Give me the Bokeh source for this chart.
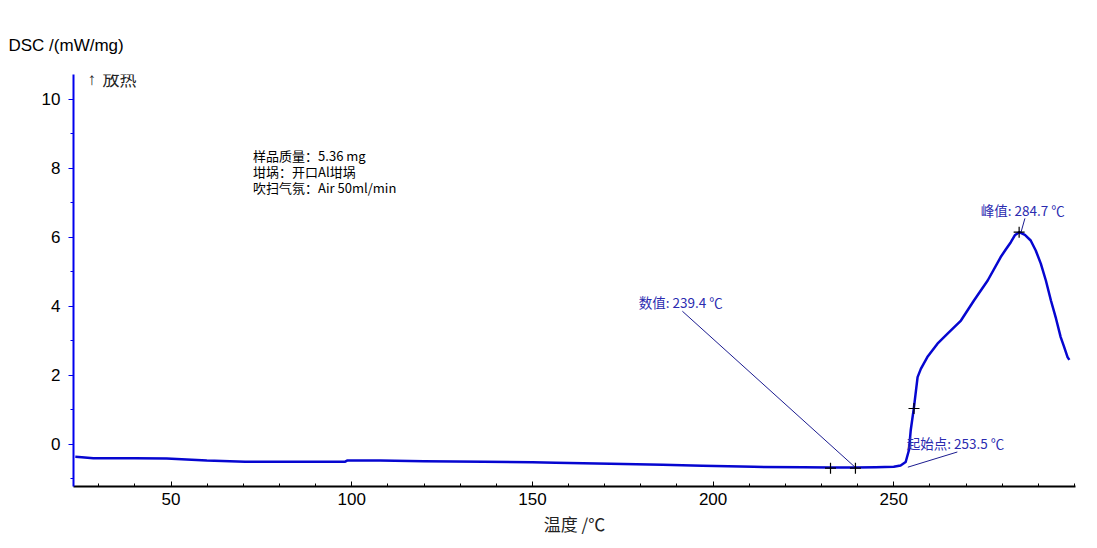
from bokeh.plotting import figure
from bokeh.models import Range1d, FixedTicker, Label, ColumnDataSource
from bokeh.core.properties import value
from bokeh.embed import file_html
from bokeh.resources import INLINE

# ---- data ----
temp = [23.5, 25.3, 28.5, 40.0, 48.8, 54.3, 59.9, 70.5, 85.0, 98.2, 98.7, 107.9, 120.0,
        136.5, 150.0, 156.4, 171.6, 186.0, 197.0, 211.2, 225.0, 232.5, 239.4, 245.0,
        250.0, 251.9, 253.3, 254.2, 254.7, 255.6, 256.6, 257.5, 259.3, 262.1, 264.9,
        268.6, 272.2, 276.0, 279.6, 281.0, 282.4, 283.5, 284.7, 286.3, 287.9, 289.3,
        290.7, 292.1, 293.5, 294.9, 296.2, 297.1, 298.1, 298.6]
dsc = [-0.36, -0.37, -0.40, -0.40, -0.41, -0.44, -0.47, -0.50, -0.50, -0.50, -0.47, -0.47, -0.49,
       -0.50, -0.52, -0.53, -0.56, -0.59, -0.62, -0.65, -0.66, -0.67, -0.67, -0.66,
       -0.65, -0.61, -0.51, -0.17, 0.41, 1.08, 1.95, 2.19, 2.53, 2.92, 3.21,
       3.59, 4.17, 4.75, 5.43, 5.65, 5.86, 6.06, 6.15, 6.07, 5.91, 5.62,
       5.24, 4.75, 4.17, 3.65, 3.11, 2.84, 2.53, 2.45]

mark_x = [232.5, 239.4, 255.6, 284.7]
mark_y = [-0.69, -0.69, 1.04, 6.15]

# leader lines (start at label, end at the marked point)
lead_x0 = [191.5, 267.6, 286.3]
lead_y0 = [3.86, -0.22, 6.55]
lead_x1 = [239.4, 253.9, 285.2]
lead_y1 = [-0.67, -0.66, 6.14]

ann_text = ["数值: 239.4 ℃", "起始点: 253.5 ℃", "峰值: 284.7 ℃"]
ann_x = [179.4, 253.6, 274.1]
ann_y = [4.12, 0.03, 6.78]

info_lines = ["样品质量：5.36 mg", "坩埚：开口Al坩埚", "吹扫气氛：Air 50ml/min"]
info_y = [8.38, 7.91, 7.45]

x_major = [50, 100, 150, 200, 250]
x_minor = [30, 40, 60, 70, 80, 90, 110, 120, 130, 140, 160, 170, 180, 190,
           210, 220, 230, 240, 260, 270, 280, 290, 300]
y_major = [0, 2, 4, 6, 8, 10]
y_minor = [-1, 1, 3, 5, 7, 9]

FONT = "Liberation Sans, Noto Sans CJK SC"
CJK = "Noto Sans CJK SC, Liberation Sans"
CURVE = "#0606d0"
ANN = "#2b2bb0"

p = figure(width=1090, height=540, output_backend="svg", toolbar_location=None,
           x_range=Range1d(23.0, 300.3), y_range=Range1d(-1.22, 10.72),
           min_border_left=73, min_border_right=15, min_border_top=74, min_border_bottom=54)
p.outline_line_color = None
p.xgrid.visible = False
p.ygrid.visible = False
p.background_fill_color = "white"

# title used as the y-axis caption at top-left
p.title.text = "DSC /(mW/mg)"
p.title.align = "left"
p.title.offset = -65
p.title.standoff = 39
p.title.text_font = FONT
p.title.text_font_size = "17px"
p.title.text_font_style = "normal"
p.title.text_color = "black"

# x axis (black, ticks inside)
xa = p.xaxis[0]
xa.ticker = FixedTicker(ticks=x_major, minor_ticks=x_minor)
xa.axis_line_color = "black"
xa.axis_line_width = 2
xa.major_tick_line_color = "black"
xa.minor_tick_line_color = "black"
xa.major_tick_in = 5
xa.major_tick_out = 0
xa.minor_tick_in = 3
xa.minor_tick_out = 0
xa.major_label_text_font = FONT
xa.major_label_text_font_size = "17px"
xa.major_label_text_color = "black"
xa.major_label_standoff = 6
xa.axis_label = "温度 /℃"
xa.axis_label_text_font = CJK
xa.axis_label_text_font_size = "17px"
xa.axis_label_text_font_style = "normal"
xa.axis_label_text_color = "#222222"
xa.axis_label_standoff = 3

# y axis (blue, ticks outside)
ya = p.yaxis[0]
ya.ticker = FixedTicker(ticks=y_major, minor_ticks=y_minor)
ya.axis_line_color = "#0000ee"
ya.axis_line_width = 2
ya.major_tick_line_color = "#0000ee"
ya.minor_tick_line_color = "#0000ee"
ya.major_tick_in = 0
ya.major_tick_out = 5
ya.minor_tick_in = 0
ya.minor_tick_out = 3
ya.major_label_text_font = FONT
ya.major_label_text_font_size = "17px"
ya.major_label_text_color = "black"
ya.major_label_standoff = 8

# curve
p.line(temp, dsc, line_color=CURVE, line_width=2.5, line_join="round")

# leader lines
p.segment(x0=lead_x0, y0=lead_y0, x1=lead_x1, y1=lead_y1, line_color="#1c1c90", line_width=1)

# cross markers
p.scatter(mark_x, mark_y, marker="cross", size=11, line_color="black", line_width=1.2)

# annotations
src = ColumnDataSource(dict(x=ann_x, y=ann_y, t=ann_text))
p.text(x="x", y="y", text="t", source=src, text_font=value(CJK), text_font_size="13.5px",
       text_color=ANN, text_baseline="middle", text_align="left")

src2 = ColumnDataSource(dict(x=[72.7] * 3, y=info_y, t=info_lines))
p.text(x="x", y="y", text="t", source=src2, text_font=value(CJK), text_font_size="13px",
       text_color="black", text_baseline="middle", text_align="left")

p.add_layout(Label(x=14, y=407, x_units="screen", y_units="screen", text="↑",
                   text_font="Liberation Sans", text_font_size="17px", text_color="#222222",
                   text_baseline="middle", text_align="left"))
p.add_layout(Label(x=29, y=408, x_units="screen", y_units="screen", text="放热",
                   text_font="Noto Sans CJK SC", text_font_size="17px", text_color="#222222",
                   text_baseline="middle", text_align="left"))

open("out.html", "w").write(file_html(p, INLINE))
